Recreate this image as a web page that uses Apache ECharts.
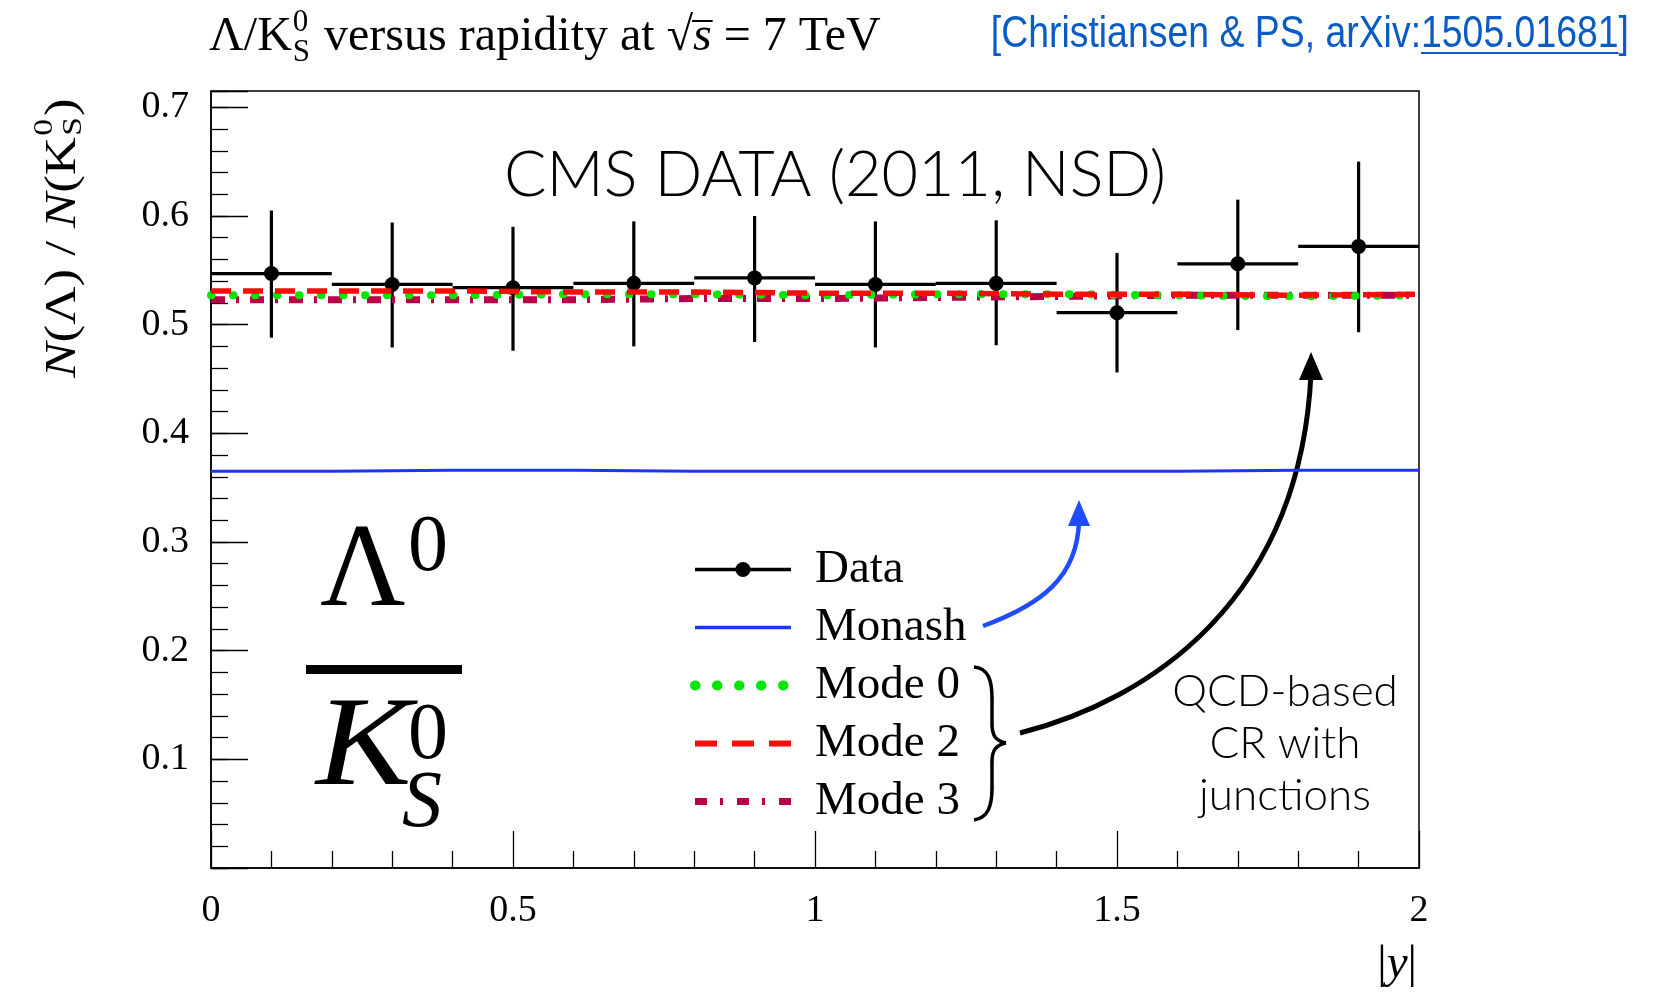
<!DOCTYPE html>
<html>
<head>
<meta charset="utf-8">
<script src="https://cdn.jsdelivr.net/npm/echarts@6/dist/echarts.min.js"></script>
<style>
  html, body { margin: 0; padding: 0; background: #fff; }
  #chart { width: 1664px; height: 993px; }
</style>
</head>
<body>
<div id="chart"></div>
<script>
// ---- data: Lambda / K0S ratio versus |y| ----
const binEdges    = [0, 0.2, 0.4, 0.6, 0.8, 1.0, 1.2, 1.4, 1.6, 1.8, 2.0];
const binCenters  = [0.1, 0.3, 0.5, 0.7, 0.9, 1.1, 1.3, 1.5, 1.7, 1.9];
const dataValues  = [0.547, 0.537, 0.534, 0.538, 0.543, 0.537, 0.538, 0.511, 0.556, 0.572];
const dataErrLow  = [0.488, 0.479, 0.476, 0.480, 0.484, 0.479, 0.481, 0.456, 0.495, 0.493];
const dataErrHigh = [0.605, 0.594, 0.590, 0.595, 0.600, 0.595, 0.596, 0.566, 0.615, 0.650];

// model predictions, one value per rapidity bin
const monashValues = [0.365, 0.366, 0.366, 0.365, 0.365, 0.365, 0.365, 0.365, 0.366, 0.366];
const mode0Values  = [0.527, 0.527, 0.528, 0.528, 0.527, 0.528, 0.528, 0.527, 0.526, 0.527];
const mode2Values  = [0.531, 0.531, 0.530, 0.530, 0.529, 0.529, 0.528, 0.528, 0.527, 0.528];
const mode3Values  = [0.523, 0.523, 0.523, 0.524, 0.524, 0.525, 0.526, 0.527, 0.527, 0.527];

const legendNames = ['Data', 'Monash', 'Mode 0', 'Mode 2', 'Mode 3'];
const yLabelValues = [0.1, 0.2, 0.3, 0.4, 0.5, 0.6, 0.7];

// ---- styling ----
const SERIF = "'Liberation Serif', 'DejaVu Serif', serif";
const SANS  = "Lato, 'Noto Sans', sans-serif";
const CITE  = "'Liberation Sans', Arial, sans-serif";
const BLUE  = '#1a36f0';
const GREEN = '#00e600';
const RED   = '#ff0a0a';
const CRIMSON = '#b80048';
const CITE_COLOR = '#0a5bc4';

const mctx = document.createElement('canvas').getContext('2d');
function tw(str, size, family, italic) {
  mctx.font = (italic ? 'italic ' : '') + size + 'px ' + (family || SERIF);
  return mctx.measureText(str).width;
}
// text placed by its alphabetic baseline
function piece(x, baseline, str, size, o) {
  o = o || {};
  const k = o.k != null ? o.k : 0.34;
  const el = {
    type: 'text', x: x, y: baseline - k * size, silent: true, z: 100,
    style: {
      text: str, fontSize: size, fontFamily: o.family || SERIF,
      fontStyle: o.italic ? 'italic' : 'normal', fontWeight: o.weight || 'normal',
      fill: o.color || '#000', align: o.align || 'left', verticalAlign: 'middle'
    }
  };
  if (o.scaleX) el.scaleX = o.scaleX;
  return el;
}

// histogram outline points for a step line
function stepPoints(vals) {
  const pts = vals.map((v, i) => [binEdges[i], v]);
  pts.push([binEdges[binEdges.length - 1], vals[vals.length - 1]]);
  return pts;
}

const errorData = binCenters.map((c, i) => [binEdges[i], binEdges[i + 1], dataValues[i], dataErrLow[i], dataErrHigh[i], c]);
const markerData = binCenters.map((c, i) => [c, dataValues[i]]);

// ---- annotation graphics ----
const g = [];

// title
(function () {
  const base = 54, S = 48, s = 31;
  let x = 209;
  g.push(piece(x, base, 'Λ/K', S)); x += tw('Λ/K', S);
  g.push(piece(x + 1, base - 21, '0', s));
  g.push(piece(x + 1, base + 9, 'S', s));
  x += Math.max(tw('0', s), tw('S', s)) + 15;
  const t2 = 'versus rapidity at ';
  g.push(piece(x, base, t2, S)); x += tw(t2, S);
  g.push(piece(x, base, '√', S)); const sq = x + tw('√', S); x = sq;
  g.push(piece(x, base, 's', S, { italic: true })); const sEnd = x + tw('s', S, SERIF, true); x = sEnd;
  g.push({ type: 'line', silent: true, shape: { x1: sq - 1, y1: 21, x2: sEnd + 1, y2: 21 }, style: { stroke: '#000', lineWidth: 2 } });
  g.push(piece(x, base, ' = 7 TeV', S));
})();

// citation (condensed sans)
(function () {
  const S = 44, base = 50;
  const txt = '[Christiansen & PS, arXiv:1505.01681]';
  const x1 = -tw('1505.01681]', S, CITE), x2 = -tw(']', S, CITE);
  g.push({
    type: 'group', x: 1629, y: 0, scaleX: 0.85,
    children: [
      piece(0, base, txt, S, { family: CITE, color: CITE_COLOR, align: 'right', k: 0.35 }),
      { type: 'line', silent: true, shape: { x1: x1, y1: base + 3, x2: x2, y2: base + 3 }, style: { stroke: CITE_COLOR, lineWidth: 2 } }
    ]
  });
})();

// rotated y-axis title  N(Λ) / N(K0S)
(function () {
  const S = 44, s = 28, B = 15, stretch = 1.2;
  const parts = [];
  let lx = 0;
  parts.push(piece(lx, B, 'N', S, { italic: true })); lx += tw('N', S, SERIF, true);
  parts.push(piece(lx, B, '(Λ) / ', S)); lx += tw('(Λ) / ', S);
  parts.push(piece(lx, B, 'N', S, { italic: true })); lx += tw('N', S, SERIF, true);
  parts.push(piece(lx, B, '(K', S)); lx += tw('(K', S);
  parts.push(piece(lx + 1, B - 24, '0', s));
  parts.push(piece(lx + 1, B + 5, 'S', s));
  lx += Math.max(tw('0', s), tw('S', s)) + 2;
  parts.push(piece(lx, B, ')', S)); lx += tw(')', S);
  g.push({ type: 'group', x: 63, y: 238 + lx * stretch / 2, rotation: Math.PI / 2, scaleX: stretch, children: parts });
})();

// x-axis title |y|
g.push({
  type: 'text', x: 1417, y: 981 - 0.34 * 47, silent: true,
  style: { text: '|{i|y}|', fontSize: 47, fontFamily: SERIF, fill: '#000', align: 'right', verticalAlign: 'middle',
    rich: { i: { fontSize: 47, fontFamily: SERIF, fontStyle: 'italic' } } }
});

// experiment label
g.push(piece(835, 200, 'CMS DATA (2011, NSD)', 63, { family: SANS, align: 'center', k: 0.387, weight: 300 }));

// big particle ratio Λ0 / K0S
g.push(piece(320, 614, 'Λ', 118));
g.push(piece(408, 576, '0', 80));
g.push({ type: 'rect', silent: true, shape: { x: 306, y: 665, width: 156, height: 9 }, style: { fill: '#000' } });
g.push(piece(316, 794, 'K', 128, { italic: true, scaleX: 1.12 }));
g.push(piece(408, 764, '0', 80));
g.push(piece(402, 832, 'S', 80, { italic: true }));

// CR model annotation
g.push(piece(1285, 709, 'QCD-based', 44, { family: SANS, align: 'center', k: 0.387, weight: 300 }));
g.push(piece(1285, 761, 'CR with', 44, { family: SANS, align: 'center', k: 0.387, weight: 300 }));
g.push(piece(1285, 813, 'junctions', 44, { family: SANS, align: 'center', k: 0.387, weight: 300 }));

// brace grouping the three modes
(function () {
  const st = { stroke: '#000', lineWidth: 3.5, fill: null };
  const segs = [
    { x1: 974, y1: 667, cpx1: 988, cpy1: 668, cpx2: 992, cpy2: 680, x2: 992, y2: 698 },
    { x1: 992, y1: 724, cpx1: 992, cpy1: 736, cpx2: 996, cpy2: 741, x2: 1006, y2: 743 },
    { x1: 1006, y1: 743, cpx1: 996, cpy1: 745, cpx2: 992, cpy2: 750, x2: 992, y2: 762 },
    { x1: 992, y1: 788, cpx1: 992, cpy1: 806, cpx2: 988, cpy2: 818, x2: 974, y2: 820 }
  ];
  segs.forEach(s => g.push({ type: 'bezierCurve', silent: true, shape: s, style: st }));
  g.push({ type: 'line', silent: true, shape: { x1: 992, y1: 697, x2: 992, y2: 725 }, style: st });
  g.push({ type: 'line', silent: true, shape: { x1: 992, y1: 761, x2: 992, y2: 789 }, style: st });
})();

// blue arrow from Monash label
g.push({
  type: 'bezierCurve', silent: true,
  shape: { x1: 983, y1: 626, cpx1: 1040, cpy1: 605, cpx2: 1078, cpy2: 578, x2: 1079, y2: 520 },
  style: { stroke: '#1f4cff', lineWidth: 4.5, fill: null }
});
g.push({ type: 'polygon', silent: true, shape: { points: [[1079, 500], [1068, 526], [1090, 526]] }, style: { fill: '#1f4cff' } });

// black arrow from the brace
g.push({
  type: 'bezierCurve', silent: true,
  shape: { x1: 1020, y1: 733, cpx1: 1150, cpy1: 700, cpx2: 1300, cpy2: 600, x2: 1311, y2: 374 },
  style: { stroke: '#000', lineWidth: 5, fill: null }
});
g.push({ type: 'polygon', silent: true, shape: { points: [[1311, 352], [1299, 380], [1323, 380]] }, style: { fill: '#000' } });

// ---- chart ----
const axisLineStyle = { color: '#000', width: 1.5 };
const tickLineStyle = { color: '#000', width: 1.3 };

const option = {
  animation: false,
  backgroundColor: '#fff',
  grid: { left: 211, right: 245, top: 91, bottom: 125, show: true, borderColor: '#000', borderWidth: 1.5, containLabel: false },
  xAxis: [{
    type: 'value', min: 0, max: 2, interval: 0.5, position: 'bottom',
    axisLine: { show: true, lineStyle: axisLineStyle },
    axisTick: { show: true, inside: true, length: 37, lineStyle: tickLineStyle },
    minorTick: { show: true, splitNumber: 5, length: 17, lineStyle: tickLineStyle },
    axisLabel: { margin: 24, fontSize: 38, fontFamily: SERIF, color: '#000' },
    splitLine: { show: false }, minorSplitLine: { show: false }
  }],
  yAxis: [{
    type: 'value', min: 0, max: 0.715, interval: 0.1, position: 'left',
    axisLine: { show: true, lineStyle: axisLineStyle },
    axisTick: { show: true, inside: true, length: 37, lineStyle: tickLineStyle },
    axisLabel: {
      margin: 22, fontSize: 38, fontFamily: SERIF, color: '#000',
      formatter: v => {
        const hit = yLabelValues.find(t => Math.abs(t - v) < 1e-6);
        return hit ? hit.toFixed(1) : '';
      }
    },
    splitLine: { show: false }
  }, {
    // fine ticks every 0.02
    type: 'value', min: 0, max: 0.715, interval: 0.02, position: 'left',
    axisLine: { show: false },
    axisTick: { show: true, inside: true, length: 17, lineStyle: tickLineStyle },
    axisLabel: { show: false },
    splitLine: { show: false }
  }],
  legend: {
    orient: 'vertical', left: 690, top: 546, padding: 0, itemWidth: 96, itemHeight: 19, itemGap: 11,
    selectedMode: false,
    textStyle: { fontFamily: SERIF, fontSize: 47, color: '#000', padding: [0, 0, 0, 19] },
    data: [
      { name: legendNames[0], lineStyle: { width: 3.5, color: '#000', type: 'solid' }, itemStyle: { color: '#000', opacity: 1 } },
      { name: legendNames[1], lineStyle: { width: 3.5, color: BLUE, type: 'solid' }, itemStyle: { opacity: 0 } },
      { name: legendNames[2], lineStyle: { width: 10, color: GREEN, type: [0.5, 21.5], cap: 'round' }, itemStyle: { opacity: 0 } },
      { name: legendNames[3], lineStyle: { width: 6, color: RED, type: [22, 15] }, itemStyle: { opacity: 0 } },
      { name: legendNames[4], lineStyle: { width: 7, color: CRIMSON, type: [12, 13, 3, 14] }, itemStyle: { opacity: 0 } }
    ]
  },
  series: [
    {
      name: 'Data errors', type: 'custom', z: 3,
      data: errorData,
      encode: { x: [0, 1, 5], y: [2, 3, 4] },
      renderItem: function (params, api) {
        const lo = api.coord([api.value(0), api.value(2)]);
        const hi = api.coord([api.value(1), api.value(2)]);
        const eLo = api.coord([api.value(5), api.value(3)]);
        const eHi = api.coord([api.value(5), api.value(4)]);
        const st = { stroke: '#000', lineWidth: 3.2, fill: null };
        return {
          type: 'group',
          children: [
            { type: 'line', shape: { x1: lo[0], y1: lo[1], x2: hi[0], y2: hi[1] }, style: st },
            { type: 'line', shape: { x1: eLo[0], y1: eLo[1], x2: eHi[0], y2: eHi[1] }, style: st }
          ]
        };
      }
    },
    {
      name: 'Data', type: 'line', z: 4, data: markerData,
      symbol: 'circle', symbolSize: 15, showSymbol: true,
      itemStyle: { color: '#000' }, lineStyle: { width: 0, color: '#000' }
    },
    {
      name: 'Monash', type: 'line', z: 5, step: 'end', data: stepPoints(monashValues),
      symbol: 'none', lineStyle: { width: 3, color: BLUE }
    },
    {
      name: 'Mode 3', type: 'line', z: 6, step: 'end', data: stepPoints(mode3Values),
      symbol: 'none', lineStyle: { width: 7, color: CRIMSON, type: [14, 11, 3, 11] }
    },
    {
      name: 'Mode 0', type: 'line', z: 7, step: 'end', data: stepPoints(mode0Values),
      symbol: 'none', lineStyle: { width: 8, color: GREEN, type: [0.5, 21.5], cap: 'round' }
    },
    {
      name: 'Mode 2', type: 'line', z: 8, step: 'end', data: stepPoints(mode2Values),
      symbol: 'none', lineStyle: { width: 5.5, color: RED, type: [20, 12] }
    }
  ],
  graphic: { elements: g }
};

const chart = echarts.init(document.getElementById('chart'), null, { renderer: 'canvas' });
chart.setOption(option);
</script>
</body>
</html>
